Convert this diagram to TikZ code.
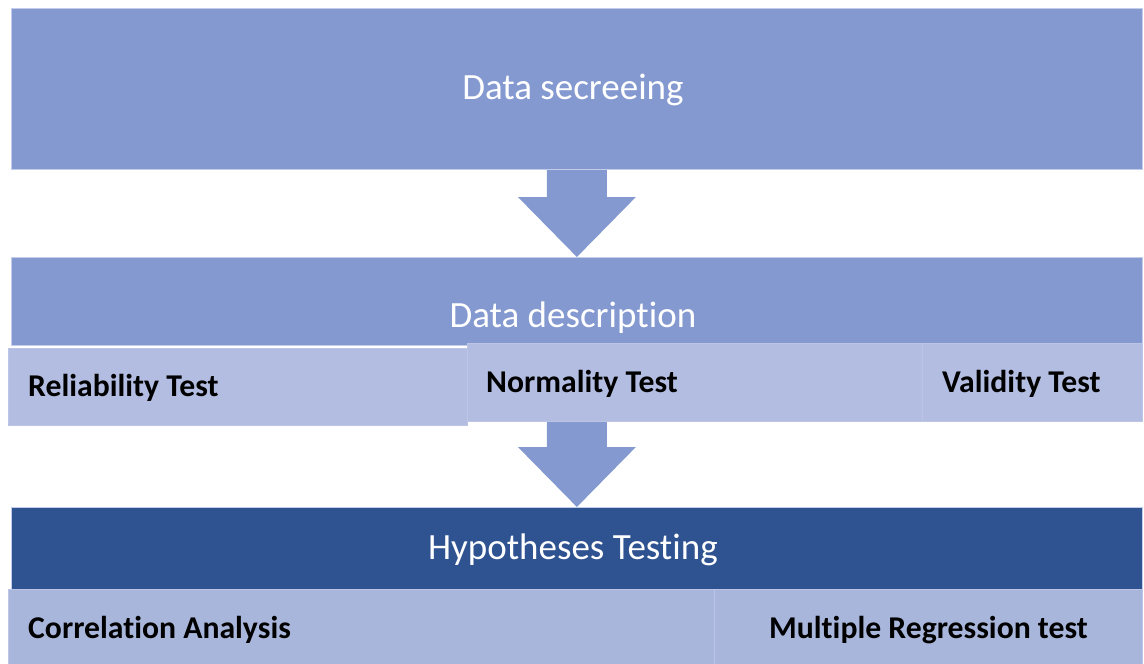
\documentclass[tikz,border=0pt]{standalone}
\usepackage{fontspec}
\setmainfont{Carlito}[RawFeature={-liga;-dlig;-clig}]
\usetikzlibrary{calc,backgrounds}

\definecolor{midblue}{HTML}{8499D0}
\definecolor{paleblue}{HTML}{B3BDE1}
\definecolor{darkblue}{HTML}{2F5291}
\definecolor{greyblue}{HTML}{A9B6DB}
\definecolor{edgeblue}{HTML}{C3CCE9}
\definecolor{subedge}{HTML}{BCC5E6}

\begin{document}
\begin{tikzpicture}[x=1pt,y=-1pt,
  stage/.style={draw=edgeblue, line width=0.8pt, fill=midblue, inner sep=0pt,
    anchor=north west, minimum width=1131pt},
  darkstage/.style={stage, fill=darkblue},
  sub/.style={draw=subedge, line width=0.8pt, fill=paleblue, inner sep=0pt,
    anchor=north west},
  lowsub/.style={sub, fill=greyblue},
  title/.style={text=white, font=\fontsize{37}{44}\selectfont, inner sep=0pt, anchor=base},
  lbl/.style={text=black, font=\fontsize{31.7}{38}\selectfont\bfseries, inner sep=0pt, anchor=base west},
  blockarrow/.style={fill=midblue, to path={
    let \p1=(\tikztostart), \p2=(\tikztotarget) in
    (\x1-30pt,\y1) -- (\x1+30pt,\y1) -- (\x1+30pt,\y2+60pt) -- (\x1+59pt,\y2+60pt)
    -- (\x1,\y2) -- (\x1-59pt,\y2+60pt) -- (\x1-30pt,\y2+60pt) -- cycle}}
]
\useasboundingbox (0,0) rectangle (1144,664);

% stage boxes
\node[stage, minimum height=161pt] (screen) at (11,8) {};
\node[stage, minimum height=88pt] (descr) at (11,257) {};
\node[darkstage, minimum height=82pt] (hypo) at (11,507) {};

% sub-boxes of the description stage
\node[sub, minimum width=459pt, minimum height=77pt] (rel) at (8,348) {};
\node[sub, minimum width=455pt, minimum height=78pt] (norm) at (467,343) {};
\node[sub, minimum width=220pt, minimum height=78pt] (valid) at (922,343) {};

% sub-boxes of the hypotheses stage
\node[lowsub, minimum width=706pt, minimum height=76pt] (corr) at (8,589) {};
\node[lowsub, minimum width=428pt, minimum height=76pt] (mreg) at (714,589) {};

% block arrows between the stages, behind the boxes
\begin{scope}[on background layer]
\path[blockarrow] (screen.south) to (descr.north);
\path[blockarrow] (hypo.north |- norm.south) to (hypo.north);
\end{scope}

% stage titles
\node[title] (screenT) at ([shift={(-4,10.5)}]screen.center) {Data secreeing};
\node[title] (descrT) at ([shift={(-4,70)}]descr.north) {Data description};
\node[title] (hypoT) at ([shift={(-4,11)}]hypo.center) {Hypotheses Testing};

% sub-box labels
\node[lbl] (relT) at ([shift={(20,9.5)}]rel.west) {Reliability Test};
\node[lbl] (normT) at ([shift={(19,10)}]norm.west) {Normality Test};
\node[lbl] (validT) at ([shift={(20,10)}]valid.west) {Validity Test};
\node[lbl] (corrT) at ([shift={(20,11.5)}]corr.west) {Correlation Analysis};
\node[lbl] (mregT) at ([shift={(55,11.5)}]mreg.west) {Multiple Regression test};
\end{tikzpicture}
\end{document}
